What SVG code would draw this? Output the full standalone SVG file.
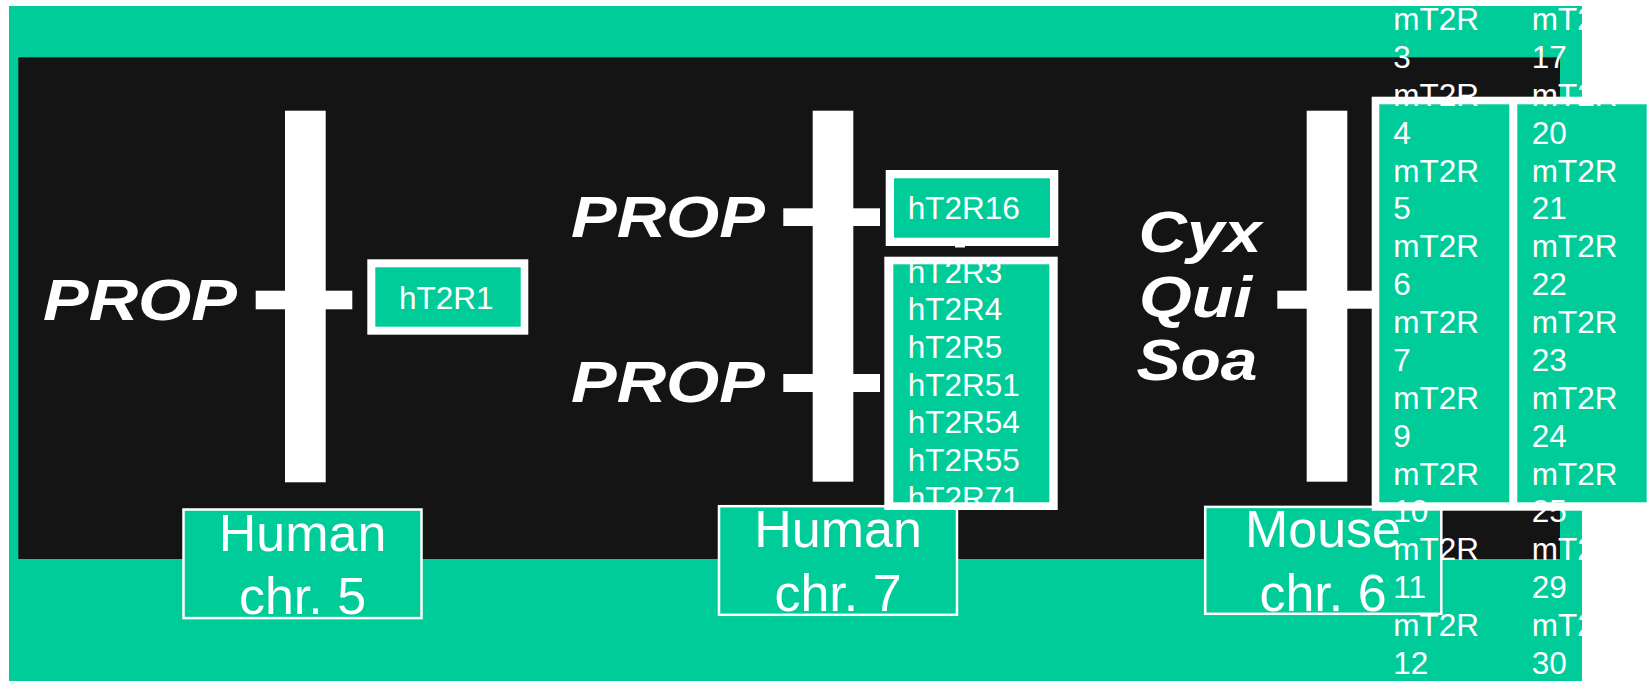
<svg xmlns="http://www.w3.org/2000/svg" width="1648" height="681" viewBox="0 0 1648 681">
<style>
.teal{fill:#00CC99}
.wh{fill:#FFFFFF}
.gene{font-family:"Liberation Sans",Arial,sans-serif;font-size:31.5px;fill:#FFFFFF}
.locus{font-family:"Liberation Sans",Arial,sans-serif;font-size:58px;font-weight:bold;font-style:italic;fill:#FFFFFF}
.lab{font-family:"Liberation Sans",Arial,sans-serif;font-size:52px;fill:#FFFFFF;text-anchor:middle}
.labbox{fill:#00CC99;stroke:#FFFFFF;stroke-width:2.5}
</style>
<rect x="0" y="0" width="1648" height="681" fill="#FFFFFF"/>
<rect x="9" y="6" width="1573" height="675" class="teal"/>
<rect x="18.3" y="57.3" width="1541.7" height="501.7" fill="#141414"/>

<g id="connectors">
<rect x="255.7" y="290.7" width="96.6" height="18.6" class="wh"/>
<rect x="783.3" y="208.3" width="96.7" height="17.7" class="wh"/>
<rect x="783.3" y="374" width="96.7" height="18" class="wh"/>
<rect x="1277.3" y="290.7" width="96" height="18" class="wh"/>
<rect x="955" y="243" width="10" height="4.5" class="wh"/>
</g>

<g id="chr5">
<rect x="285" y="110.7" width="40.7" height="371.6" class="wh"/>
<text x="43" y="320" class="locus" textLength="194" lengthAdjust="spacingAndGlyphs">PROP</text>
</g>
<g id="chr7">
<rect x="812.7" y="110.7" width="40.6" height="371" class="wh"/>
<text x="571" y="236.7" class="locus" textLength="194" lengthAdjust="spacingAndGlyphs">PROP</text>
<text x="571" y="402.3" class="locus" textLength="194" lengthAdjust="spacingAndGlyphs">PROP</text>
</g>
<g id="chr6">
<rect x="1306.7" y="110.7" width="40.6" height="371" class="wh"/>
<text x="1138.5" y="251.7" class="locus" font-size="59" textLength="123" lengthAdjust="spacingAndGlyphs">Cyx</text>
<text x="1139" y="316.7" class="locus" font-size="59" textLength="113" lengthAdjust="spacingAndGlyphs">Qui</text>
<text x="1136.5" y="380" class="locus" font-size="59" textLength="121" lengthAdjust="spacingAndGlyphs">Soa</text>
</g>

<g id="hT2R1">
<rect x="367.3" y="259.3" width="161" height="75.4" class="wh"/>
<rect x="375.3" y="267.3" width="145.4" height="59.4" class="teal"/>
<text x="399" y="309.3" class="gene" font-size="31">hT2R1</text>
</g>

<g id="hT2R16">
<rect x="885.7" y="170" width="172.6" height="76" class="wh"/>
<rect x="894" y="178.3" width="156" height="59.4" class="teal"/>
<text x="907.7" y="219.3" class="gene" font-size="31">hT2R16</text>
</g>

<g id="label-chr5">
<rect x="183.5" y="509.5" width="238" height="108.6" class="labbox"/>
<text x="302.5" y="550.7" class="lab">Human</text>
<text x="302.5" y="614" class="lab">chr. 5</text>
</g>

<g id="label-chr7">
<rect x="719" y="506.2" width="238" height="108.6" class="labbox"/>
<text x="838" y="547.3" class="lab">Human</text>
<text x="838" y="610.7" class="lab">chr. 7</text>
</g>

<g id="hT2R-cluster">
<rect x="884.3" y="256.7" width="173.4" height="253.3" class="wh"/>
<rect x="893.3" y="264.3" width="156" height="238" class="teal"/>
<text class="gene" font-size="31">
<tspan x="907.7" y="282.5">hT2R3</tspan>
<tspan x="907.7" y="320.2">hT2R4</tspan>
<tspan x="907.7" y="357.9">hT2R5</tspan>
<tspan x="907.7" y="395.6">hT2R51</tspan>
<tspan x="907.7" y="433.3">hT2R54</tspan>
<tspan x="907.7" y="471">hT2R55</tspan>
<tspan x="907.7" y="508.7">hT2R71</tspan>
</text>
</g>

<g id="label-chr6">
<rect x="1205.2" y="506.9" width="236.1" height="106.9" class="labbox"/>
<text x="1323" y="547.3" class="lab">Mouse</text>
<text x="1323" y="610.7" class="lab">chr. 6</text>
</g>

<g id="mT2R-cluster">
<rect x="1371.7" y="96.7" width="290" height="414" class="wh"/>
<rect x="1379.3" y="104.3" width="130" height="398" class="teal"/>
<rect x="1517.3" y="104.3" width="129.4" height="398" class="teal"/>
<text class="gene">
<tspan x="1393.3" y="30">mT2R</tspan>
<tspan x="1393.3" y="67.88">3</tspan>
<tspan x="1393.3" y="105.76">mT2R</tspan>
<tspan x="1393.3" y="143.64">4</tspan>
<tspan x="1393.3" y="181.52">mT2R</tspan>
<tspan x="1393.3" y="219.4">5</tspan>
<tspan x="1393.3" y="257.28">mT2R</tspan>
<tspan x="1393.3" y="295.16">6</tspan>
<tspan x="1393.3" y="333.04">mT2R</tspan>
<tspan x="1393.3" y="370.92">7</tspan>
<tspan x="1393.3" y="408.8">mT2R</tspan>
<tspan x="1393.3" y="446.68">9</tspan>
<tspan x="1393.3" y="484.56">mT2R</tspan>
<tspan x="1393.3" y="522.44">10</tspan>
<tspan x="1393.3" y="560.32">mT2R</tspan>
<tspan x="1393.3" y="598.2">11</tspan>
<tspan x="1393.3" y="636.08">mT2R</tspan>
<tspan x="1393.3" y="673.96">12</tspan>
</text>
<text class="gene">
<tspan x="1531.7" y="30">mT2R</tspan>
<tspan x="1531.7" y="67.88">17</tspan>
<tspan x="1531.7" y="105.76">mT2R</tspan>
<tspan x="1531.7" y="143.64">20</tspan>
<tspan x="1531.7" y="181.52">mT2R</tspan>
<tspan x="1531.7" y="219.4">21</tspan>
<tspan x="1531.7" y="257.28">mT2R</tspan>
<tspan x="1531.7" y="295.16">22</tspan>
<tspan x="1531.7" y="333.04">mT2R</tspan>
<tspan x="1531.7" y="370.92">23</tspan>
<tspan x="1531.7" y="408.8">mT2R</tspan>
<tspan x="1531.7" y="446.68">24</tspan>
<tspan x="1531.7" y="484.56">mT2R</tspan>
<tspan x="1531.7" y="522.44">25</tspan>
<tspan x="1531.7" y="560.32">mT2R</tspan>
<tspan x="1531.7" y="598.2">29</tspan>
<tspan x="1531.7" y="636.08">mT2R</tspan>
<tspan x="1531.7" y="673.96">30</tspan>
</text>
</g>
</svg>
